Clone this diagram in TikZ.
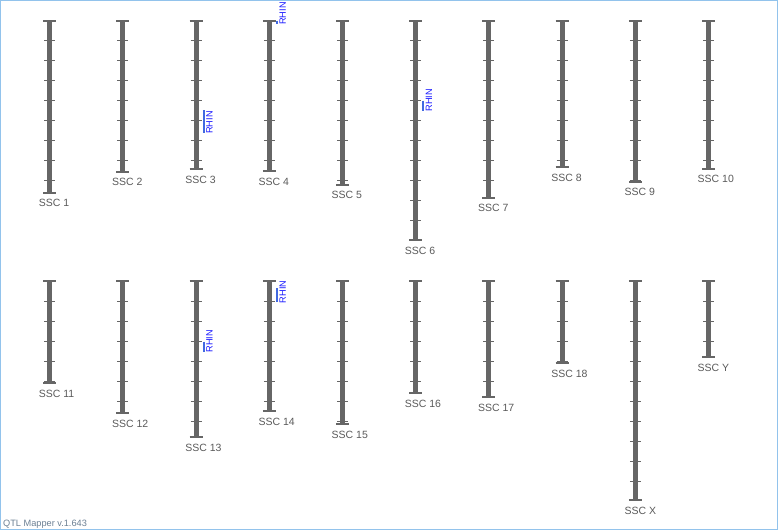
\documentclass[tikz,border=0pt]{standalone}
\usepackage{fontspec}
\setmainfont{Liberation Sans}
\definecolor{barc}{HTML}{666666}
\definecolor{labc}{HTML}{5A5A5A}
\definecolor{qtlline}{HTML}{4169E1}
\definecolor{qtltext}{HTML}{1A1AFF}
\definecolor{framec}{HTML}{92C3EC}
\definecolor{verc}{HTML}{6B7F93}
\begin{document}
\begin{tikzpicture}[x=1pt,y=-1pt,
  chrbar/.style={draw=barc,line width=5pt},
  capline/.style={draw=barc,line width=2pt},
  tickline/.style={draw=barc,line width=1pt},
  chrlabel/.style={anchor=base west,inner sep=0pt,text=labc,font=\fontsize{10.5}{12}\selectfont},
  qtlbar/.style={draw=qtlline,line width=2pt},
  qtllabel/.style={rotate=90,anchor=north west,inner sep=0pt,text=qtltext,font=\fontsize{9.2}{11}\selectfont},
  verlabel/.style={anchor=base west,inner sep=0pt,text=verc,font=\fontsize{9.2}{11}\selectfont}
]
\useasboundingbox (0,0) rectangle (778,530);
\draw[framec,line width=1pt] (0.5,0.5) rectangle (777.5,529.5);
\foreach \id/\lab/\xx/\ty/\cl/\nt in {
  1/SSC 1/49.7/20.5/172/8,
  2/SSC 2/122.9/20.5/151/7,
  3/SSC 3/196.1/20.5/148.5/7,
  4/SSC 4/269.3/20.5/150.5/7,
  5/SSC 5/342.5/20.5/164/8,
  6/SSC 6/415.7/20.5/219.5/10,
  7/SSC 7/488.9/20.5/177/8,
  8/SSC 8/562.1/20.5/146.5/7,
  9/SSC 9/635.3/20.5/161/8,
  10/SSC 10/708.5/20.5/148/7,
  11/SSC 11/49.7/281/102/5,
  12/SSC 12/122.9/281/132/6,
  13/SSC 13/196.1/281/156/7,
  14/SSC 14/269.3/281/130/6,
  15/SSC 15/342.5/281/143/7,
  16/SSC 16/415.7/281/112/5,
  17/SSC 17/488.9/281/116/5,
  18/SSC 18/562.1/281/82/4,
  X/SSC X/635.3/281/219/10,
  Y/SSC Y/708.5/281/76/3}
{
  \coordinate (t\id) at (\xx,\ty);
  \coordinate (b\id) at (\xx,\ty+\cl);
  \draw[chrbar] (t\id) -- (b\id);
  \draw[capline] ([xshift=-6.5pt]t\id) -- ([xshift=6.5pt]t\id);
  \draw[capline] ([xshift=-6.5pt]b\id) -- ([xshift=6.5pt]b\id);
  \foreach \k in {1,...,\nt}
    \draw[tickline] (\xx-5.5,\ty+20*\k) -- (\xx+5.5,\ty+20*\k);
  \node[chrlabel] (l\id) at (\xx-11,\ty+\cl+14) {\lab};
}
% QTL markers
\foreach \id/\xx/\ya/\yb in {
  3/196.1/110/133,
  4/269.3/20.5/24,
  6/415.7/100.5/110.7,
  13/196.1/341.7/351.7,
  14/269.3/288.3/302.3}
{
  \coordinate (qa\id) at (\xx+7.5,\ya);
  \coordinate (qb\id) at (\xx+7.5,\yb);
  \draw[qtlbar] (qa\id) -- (qb\id);
  \node[qtllabel] (r\id) at ([xshift=2.5pt,yshift=-1pt]qb\id) {RHIN};
}
\node[verlabel] (ver) at (3,526.5) {QTL Mapper v.1.643};
\end{tikzpicture}
\end{document}
